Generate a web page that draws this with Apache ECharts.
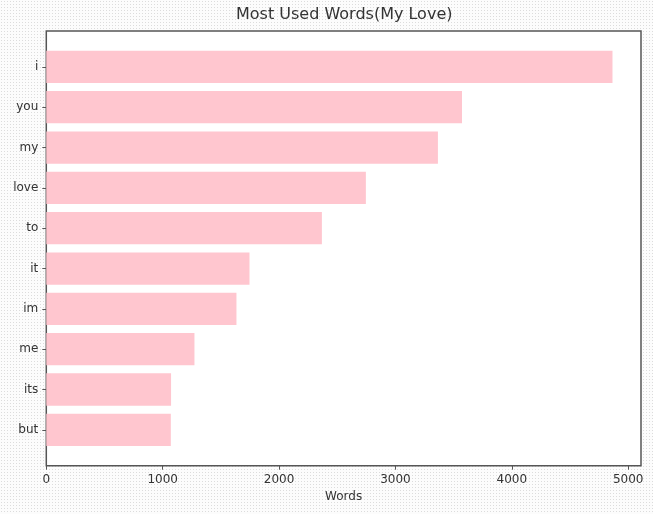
<!DOCTYPE html>
<html>
<head>
<meta charset="utf-8">
<script src="https://cdn.jsdelivr.net/npm/echarts@6/dist/echarts.min.js"></script>
<style>
html,body{margin:0;padding:0;}
body{width:653px;height:514px;background-color:#fcfcfc;
background-image:radial-gradient(#dcdcdc 0.6px, transparent 0.9px);background-size:3px 3px;}
#chart{width:653px;height:514px;}
</style>
</head>
<body>
<div id="chart"></div>
<script>
var categories = ['i','you','my','love','to','it','im','me','its','but'];
var counts = [4865, 3572, 3365, 2746, 2368, 1746, 1634, 1273, 1072, 1070];
var xTicks = [0, 1000, 2000, 3000, 4000, 5000];
var xMax = 5110;

var textColor = '#333';
var lineColor = '#555';
var font = 'DejaVu Sans';

var chart = echarts.init(document.getElementById('chart'), null, {renderer:'canvas'});
chart.setOption({
  backgroundColor: 'transparent',
  animation: false,
  title: {
    text: 'Most Used Words(My Love)',
    left: 236,
    top: 7,
    padding: 0,
    textStyle: {fontFamily: font, fontSize: 16, fontWeight: 'normal', color: textColor}
  },
  grid: [
    {left: 46.3, right: 12, top: 46.7, bottom: 64, show: false},
    {left: 46.3, right: 12, top: 31, bottom: 48.3, show: true, backgroundColor: '#fff', borderColor: lineColor, borderWidth: 1.5, z: 0}
  ],
  xAxis: [
    {type: 'value', gridIndex: 0, min: 0, max: xMax, show: false},
    {type: 'value', gridIndex: 1, min: 0, max: xMax,
      axisLine: {show: false},
      splitLine: {show: false},
      axisTick: {show: true, length: 4, inside: false, lineStyle: {color: lineColor, width: 1}, customValues: xTicks},
      axisLabel: {margin: 8, fontFamily: font, fontSize: 12, color: textColor, customValues: xTicks,
        formatter: function (v) { return String(v); }},
      name: 'Words', nameLocation: 'middle', nameGap: 25,
      nameTextStyle: {fontFamily: font, fontSize: 12, color: textColor}
    }
  ],
  yAxis: [
    {type: 'category', gridIndex: 0, data: categories, inverse: true,
      axisLine: {show: false},
      axisTick: {show: true, alignWithLabel: true, length: 4, inside: false, lineStyle: {color: lineColor, width: 1}},
      axisLabel: {margin: 8, fontFamily: font, fontSize: 12, color: textColor},
      splitLine: {show: false}
    },
    {type: 'value', gridIndex: 1, show: false, min: 0, max: 1}
  ],
  series: [{
    type: 'bar',
    xAxisIndex: 0,
    yAxisIndex: 0,
    data: counts,
    barCategoryGap: '20%',
    itemStyle: {color: '#ffc6cf'},
    z: 2
  }]
});
</script>
</body>
</html>
